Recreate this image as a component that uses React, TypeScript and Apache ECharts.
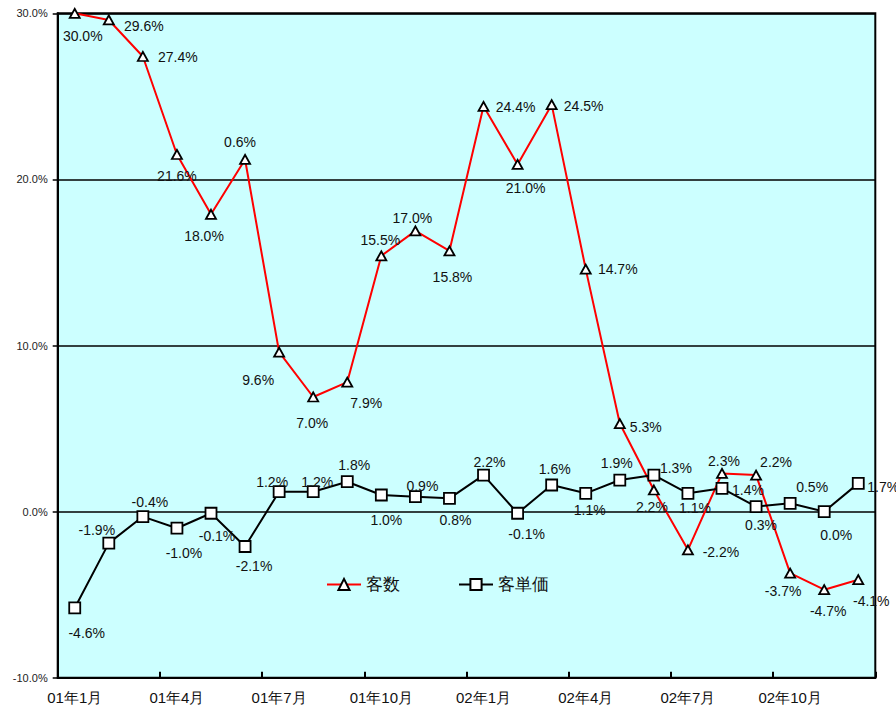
import React, { useEffect, useRef } from "react";
import * as echarts from "echarts";

const categories = [
  "01年1月", "01年2月", "01年3月", "01年4月", "01年5月", "01年6月",
  "01年7月", "01年8月", "01年9月", "01年10月", "01年11月", "01年12月",
  "02年1月", "02年2月", "02年3月", "02年4月", "02年5月", "02年6月",
  "02年7月", "02年8月", "02年9月", "02年10月", "02年11月", "02年12月",
];

// plotted positions
const kyakusu = [30.0, 29.6, 27.4, 21.5, 17.9, 21.2, 9.6, 6.9, 7.8, 15.4, 16.9, 15.7,
  24.4, 20.9, 24.5, 14.6, 5.3, 1.3, -2.3, 2.3, 2.2, -3.7, -4.7, -4.1];
const kyakutanka = [-5.8, -1.9, -0.3, -1.0, -0.1, -2.1, 1.2, 1.2, 1.8, 1.0, 0.9, 0.8,
  2.2, -0.1, 1.6, 1.1, 1.9, 2.2, 1.1, 1.4, 0.3, 0.5, 0.0, 1.7];

// data label texts as shown
const kyakusuLabels = ["30.0%", "29.6%", "27.4%", "21.6%", "18.0%", "0.6%", "9.6%", "7.0%",
  "7.9%", "15.5%", "17.0%", "15.8%", "24.4%", "21.0%", "24.5%", "14.7%", "5.3%", "2.2%",
  "-2.2%", "2.3%", "2.2%", "-3.7%", "-4.7%", "-4.1%"];
const kyakutankaLabels = ["-4.6%", "-1.9%", "-0.4%", "-1.0%", "-0.1%", "-2.1%", "1.2%", "1.2%",
  "1.8%", "1.0%", "0.9%", "0.8%", "2.2%", "-0.1%", "1.6%", "1.1%", "1.9%", "1.3%",
  "1.1%", "1.4%", "0.3%", "0.5%", "0.0%", "1.7%"];

const yTicks = { min: -10, max: 30, interval: 10 };

// label placement (layout only)
const kyakusuOffsets: [number, number][] = [
  [8, 23], [35, 6], [35, 1], [0, 22], [-7, 22], [-5, -17], [-21, 28], [-1, 26],
  [19, 21], [-1, -16], [-3, -13], [3, 26], [32, 1], [8, 24], [32, 1], [32, 0],
  [26, 3], [-2, 17], [33, 2], [2, -12], [20, -13], [-7, 18], [4, 21], [13, 21],
];
const kyakutankaOffsets: [number, number][] = [
  [12, 25], [-12, -13], [7, -15], [7, 25], [6, 23], [9, 20], [-7, -10], [4, -10],
  [7, -17], [5, 25], [7, -11], [6, 22], [6, -13], [9, 21], [3, -16], [4, 17],
  [-3, -17], [22, -7], [7, 15], [26, 2], [5, 18], [22, -16], [12, 23], [25, 4],
];

const FONT = "'Liberation Sans', Arial, sans-serif";

export default function App() {
  const ref = useRef<HTMLDivElement>(null);
  useEffect(() => {
    if (!ref.current) return;
    const chart = echarts.init(ref.current, null, { renderer: "svg" });
    const mk = (vals: number[], labels: string[], offs: [number, number][]) =>
      vals.map((v, i) => ({
        value: v,
        label: {
          show: true,
          position: "inside",
          offset: offs[i],
          formatter: labels[i],
          color: "#111",
          fontSize: 14,
          fontFamily: FONT,
        },
      }));
    chart.setOption({
      animation: false,
      textStyle: { fontFamily: FONT },
      grid: {
        left: 57.7,
        right: 20.7,
        top: 13.3,
        bottom: 31.3,
        show: true,
        backgroundColor: "#CCFFFF",
        borderColor: "#000",
        borderWidth: 2,
      },
      legend: {
        left: 321,
        top: 571,
        itemWidth: 34,
        itemHeight: 14,
        itemGap: 58,
        textStyle: { fontSize: 17, color: "#111", fontFamily: FONT },
        data: ["客数", "客単価"],
      },
      xAxis: {
        type: "category",
        data: categories,
        boundaryGap: true,
        axisLine: { onZero: false, lineStyle: { color: "#000", width: 2 } },
        axisTick: { show: true, inside: true, length: 6, interval: 2, lineStyle: { color: "#000", width: 2 } },
        axisLabel: { interval: 2, fontSize: 15, color: "#111", margin: 12, fontFamily: FONT },
      },
      yAxis: {
        type: "value",
        min: yTicks.min,
        max: yTicks.max,
        interval: yTicks.interval,
        axisLine: { show: true, lineStyle: { color: "#000", width: 2 } },
        axisTick: { show: true, length: 5, lineStyle: { color: "#000", width: 1.5 } },
        axisLabel: {
          fontSize: 11,
          color: "#222",
          margin: 10,
          fontFamily: FONT,
          formatter: (v: number) => v.toFixed(1) + "%",
        },
        splitLine: { show: true, lineStyle: { color: "#000", width: 1.5 } },
      },
      series: [
        {
          name: "客数",
          type: "line",
          data: mk(kyakusu, kyakusuLabels, kyakusuOffsets),
          symbol: "triangle",
          symbolSize: [10, 9],
          lineStyle: { color: "#FF0000", width: 2 },
          itemStyle: { color: "#fff", borderColor: "#000", borderWidth: 1.8 },
          z: 3,
        },
        {
          name: "客単価",
          type: "line",
          data: mk(kyakutanka, kyakutankaLabels, kyakutankaOffsets),
          symbol: "rect",
          symbolSize: 11,
          lineStyle: { color: "#000", width: 2 },
          itemStyle: { color: "#fff", borderColor: "#000", borderWidth: 1.8 },
          z: 4,
        },
      ],
    });
    return () => chart.dispose();
  }, []);
  return (
    <div
      ref={ref}
      style={{ position: "fixed", left: 0, top: 0, width: 896, height: 709, background: "#fff" }}
    />
  );
}
